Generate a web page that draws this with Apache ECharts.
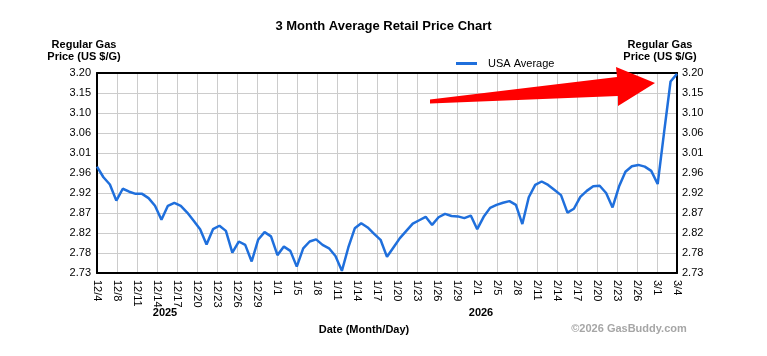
<!DOCTYPE html>
<html>
<head>
<meta charset="utf-8">
<script src="https://cdn.jsdelivr.net/npm/echarts@6/dist/echarts.min.js"></script>
<style>
html,body{margin:0;padding:0;background:#fff;}
#c{width:767px;height:356px;}
</style>
</head>
<body>
<div id="c"></div>
<script>
// Tick labels on the date axis (evenly spaced across the 90-day span)
var xTickLabels = ['12/4','12/8','12/11','12/14','12/17','12/20','12/23','12/26','12/29','1/1','1/5','1/8','1/11','1/14','1/17','1/20','1/23','1/26','1/29','2/1','2/5','2/8','2/11','2/14','2/17','2/20','2/23','2/26','3/1','3/4'];
// Tick labels on the price axes
var yTickLabels = ['2.73','2.78','2.82','2.87','2.92','2.96','3.01','3.06','3.10','3.15','3.20'];
var seriesName = 'USA Average';
// Daily USA average regular gas price, 12/4 (day 0) to 3/4 (day 90)
var usaAverage = [
  2.980, 2.955, 2.938, 2.900, 2.928, 2.921, 2.916, 2.916, 2.906, 2.888,
  2.855, 2.888, 2.895, 2.888, 2.872, 2.853, 2.833, 2.797, 2.833, 2.841,
  2.829, 2.778, 2.804, 2.796, 2.757, 2.808, 2.826, 2.816, 2.772, 2.792,
  2.782, 2.745, 2.788, 2.804, 2.809, 2.796, 2.788, 2.770, 2.735, 2.790,
  2.835, 2.847, 2.837, 2.822, 2.808, 2.768, 2.790, 2.812, 2.829, 2.846,
  2.854, 2.862, 2.843, 2.861, 2.869, 2.864, 2.863, 2.859, 2.865, 2.833,
  2.862, 2.883, 2.890, 2.895, 2.899, 2.890, 2.845, 2.908, 2.937, 2.945,
  2.937, 2.925, 2.913, 2.872, 2.881, 2.909, 2.923, 2.934, 2.935, 2.918,
  2.884, 2.933, 2.968, 2.981, 2.984, 2.980, 2.970, 2.939, 3.061, 3.180,
  3.198
];

var FONT = '"Liberation Sans", Arial, sans-serif';
var yMin = 2.73, yMax = 3.20, yStep = 0.047;
var xSpan = usaAverage.length - 1;
var xStep = xSpan / (xTickLabels.length - 1);

var points = usaAverage.map(function (v, i) { return [i, v]; });

function yLabel(v) {
  var i = Math.round((v - yMin) / yStep);
  return yTickLabels[i] !== undefined ? yTickLabels[i] : '';
}
function xLabel(v) {
  var i = Math.round(v / xStep);
  return xTickLabels[i] !== undefined ? xTickLabels[i] : '';
}

var chart = echarts.init(document.getElementById('c'), null, {renderer: 'canvas'});
chart.setOption({
  animation: false,
  backgroundColor: '#fff',
  title: {
    text: '3 Month Average Retail Price Chart',
    left: 'center',
    top: 20,
    padding: 0,
    textStyle: {fontFamily: FONT, fontSize: 13, fontWeight: 'bold', color: '#000'}
  },
  legend: {
    left: 456,
    top: 58,
    padding: 0,
    itemWidth: 21,
    itemHeight: 3,
    data: [{name: seriesName, icon: 'rect'}],
    textStyle: {fontFamily: FONT, fontSize: 11, color: '#000', padding: [0, 0, 0, 6]}
  },
  grid: {left: 97, right: 90, top: 73, bottom: 83, outerBoundsMode: 'none'},
  xAxis: [{
    type: 'value',
    min: 0,
    max: xSpan,
    interval: xStep,
    axisLine: {show: true, lineStyle: {color: '#000', width: 2}},
    axisTick: {show: false},
    splitLine: {show: true, lineStyle: {color: '#cccccc', width: 1}},
    axisLabel: {
      rotate: -90,
      margin: 7,
      fontFamily: FONT,
      fontSize: 11,
      color: '#000',
      formatter: xLabel
    }
  }, {
    type: 'value',
    position: 'top',
    min: 0,
    max: xSpan,
    interval: xStep,
    axisLine: {show: true, onZero: false, lineStyle: {color: '#000', width: 2}},
    axisTick: {show: false},
    axisLabel: {show: false},
    splitLine: {show: false}
  }],
  yAxis: [{
    type: 'value',
    position: 'left',
    min: yMin,
    max: yMax,
    interval: yStep,
    axisLine: {show: true, onZero: false, lineStyle: {color: '#000', width: 2}},
    axisTick: {show: false},
    splitLine: {show: true, lineStyle: {color: '#cccccc', width: 1}},
    axisLabel: {margin: 6, fontFamily: FONT, fontSize: 11, color: '#000', formatter: yLabel}
  }, {
    type: 'value',
    position: 'right',
    min: yMin,
    max: yMax,
    interval: yStep,
    axisLine: {show: true, onZero: false, lineStyle: {color: '#000', width: 2}},
    axisTick: {show: false},
    splitLine: {show: false},
    axisLabel: {margin: 5, fontFamily: FONT, fontSize: 11, color: '#000', formatter: yLabel}
  }],
  series: [{
    name: seriesName,
    type: 'line',
    xAxisIndex: 0,
    yAxisIndex: 0,
    data: points,
    showSymbol: false,
    symbol: 'none',
    smooth: false,
    lineStyle: {color: '#1f6fdc', width: 2.5},
    itemStyle: {color: '#1f6fdc'},
    z: 3
  }],
  graphic: [
    {type: 'text', left: null, x: 84, y: 39, style: {text: 'Regular Gas\nPrice (US $/G)', textAlign: 'center', textVerticalAlign: 'top', font: 'bold 11px ' + FONT, lineHeight: 12, fill: '#000'}},
    {type: 'text', x: 660, y: 39, style: {text: 'Regular Gas\nPrice (US $/G)', textAlign: 'center', textVerticalAlign: 'top', font: 'bold 11px ' + FONT, lineHeight: 12, fill: '#000'}},
    {type: 'text', x: 165, y: 313, style: {text: '2025', textAlign: 'center', textVerticalAlign: 'middle', font: 'bold 11px ' + FONT, fill: '#000'}},
    {type: 'text', x: 481, y: 313, style: {text: '2026', textAlign: 'center', textVerticalAlign: 'middle', font: 'bold 11px ' + FONT, fill: '#000'}},
    {type: 'text', x: 364, y: 329.5, style: {text: 'Date (Month/Day)', textAlign: 'center', textVerticalAlign: 'middle', font: 'bold 11px ' + FONT, fill: '#000'}},
    {type: 'text', x: 629, y: 329, style: {text: '\u00a92026 GasBuddy.com', textAlign: 'center', textVerticalAlign: 'middle', font: 'bold 11px ' + FONT, fill: '#a6a6a6'}},
    {type: 'polygon', z: 100, shape: {points: [[430, 99.5], [617, 77], [616, 67], [655, 83], [618, 106], [618, 96], [430, 103.5]]}, style: {fill: '#ff0000'}}
  ]
});
</script>
</body>
</html>
